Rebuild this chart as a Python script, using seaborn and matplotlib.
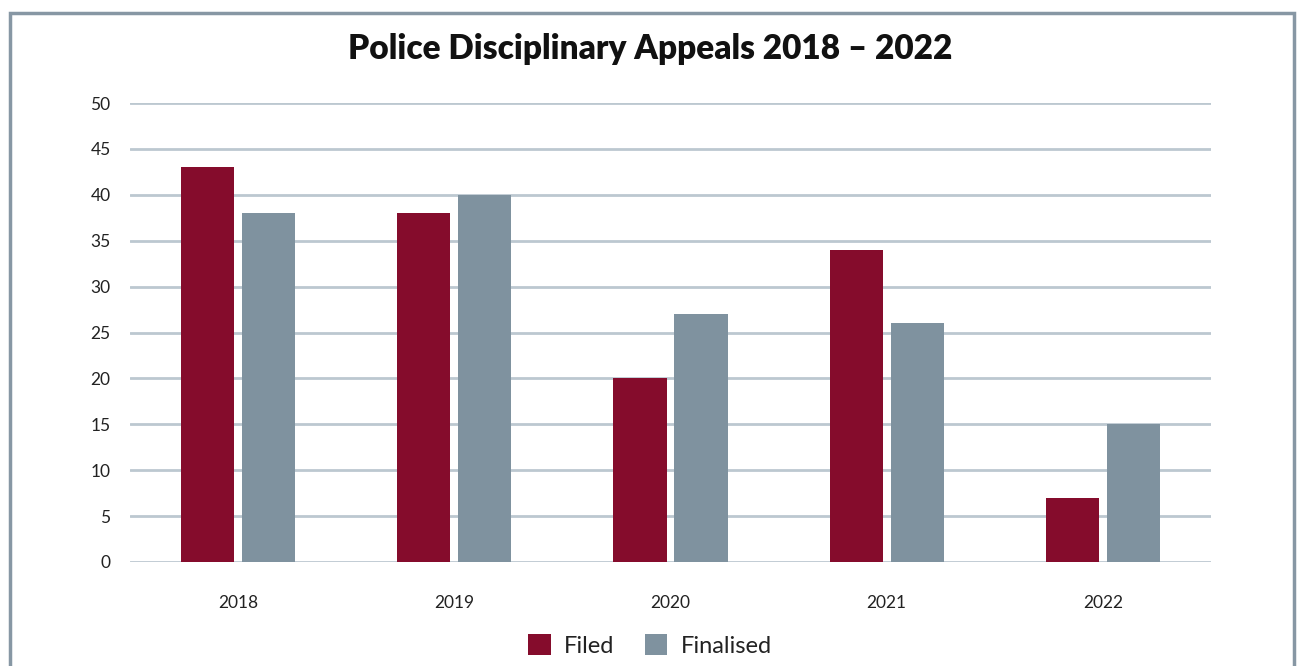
import matplotlib
matplotlib.use("Agg")
import matplotlib.pyplot as plt
import seaborn as sns
import pandas as pd
from matplotlib.patches import Rectangle, Patch

years = ["2018", "2019", "2020", "2021", "2022"]
filed = [43, 38, 20, 34, 7]
finalised = [38, 40, 27, 26, 15]
series = ["Filed", "Finalised"]
colors = ["#850C2C", "#7F929F"]

df = pd.DataFrame({
    "Year": years * 2,
    "Count": filed + finalised,
    "Series": [series[0]] * len(years) + [series[1]] * len(years),
})

sns.set_theme(style="white")
plt.rcParams["font.family"] = ["Lato", "DejaVu Sans"]

fig = plt.figure(figsize=(13, 6.66), dpi=100)
ax = fig.add_axes([0.1, 0.1562, 0.8315, 0.6891])

sns.barplot(data=df, x="Year", y="Count", hue="Series", palette=colors,
            width=0.565, gap=0.13, saturation=1, ax=ax, legend=False,
            linewidth=0, edgecolor="none", zorder=3)

ax.set_xlim(-0.5, 4.5)
ax.set_ylim(0, 50)
ax.set_yticks(range(0, 51, 5))
ax.yaxis.grid(True, color="#BCC8D0", linewidth=2, zorder=0)
ax.set_axisbelow(True)
for s in ax.spines.values():
    s.set_visible(False)
ax.set_xlabel("")
ax.set_ylabel("")
ax.tick_params(axis="both", length=0, labelsize=12.5, colors="#222222")
ax.tick_params(axis="x", pad=24)
ax.tick_params(axis="y", pad=14)

fig.text(0.5, 0.927, "Police Disciplinary Appeals 2018 – 2022",
         ha="center", va="center", fontsize=24, fontweight="heavy",
         color="#111111")

handles = [Patch(facecolor=c, edgecolor="none") for c in colors]
fig.legend(handles, series, loc="center", bbox_to_anchor=(0.5, 0.031),
           ncol=2, frameon=False, fontsize=17, handlelength=0.95,
           handleheight=0.95, columnspacing=1.3, handletextpad=0.55,
           labelcolor="#222222")

# outer frame around the chart
fig.patches.append(Rectangle((10 / 1300, -0.05), 1284 / 1300, 1 - 13 / 666 + 0.05,
                             transform=fig.transFigure, fill=False,
                             edgecolor="#8797A4", linewidth=2.5))

fig.savefig("out.png", dpi=100, facecolor="white")
